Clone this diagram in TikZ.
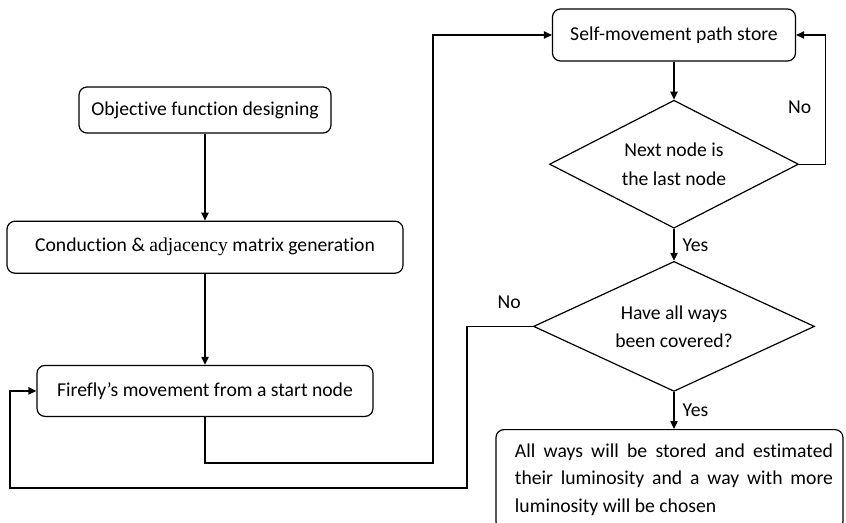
\documentclass[tikz,border=0pt]{standalone}
\usepackage{fontspec}
\setmainfont{Carlito}[Ligatures=NoCommon]
\newfontfamily\timesfont{Liberation Serif}
\usetikzlibrary{arrows.meta,positioning,shapes.geometric}
\tikzset{
  procbox/.style={draw=black, line width=0.9pt, rounded corners=6pt, align=center, fill=white,
    inner sep=3pt, font=\fontsize{14.75}{17}\selectfont},
  decision/.style={draw=black, line width=0.9pt, diamond, aspect=1.95, inner sep=0pt, align=center,
    font=\fontsize{14.75}{22}\selectfont},
  arr/.style={-{Triangle[length=6pt,width=5.5pt]}, line width=0.9pt},
  tag/.style={font=\fontsize{14.75}{17}\selectfont, inner sep=1pt}
}
\begin{document}
\begin{tikzpicture}[x=0.75pt, y=-0.75pt]
  \useasboundingbox (0,0) rectangle (846,522);
  \clip (0,0) rectangle (846,522);
  % left column
  \node[procbox, minimum width=189pt, minimum height=34.5pt] (obj) at (205,110) {Objective function designing};
  \node[procbox, below=65.25pt of obj, minimum width=297pt, minimum height=39pt] (adj) {Conduction \& {\timesfont adjacency} matrix generation};
  \node[procbox, below=68.25pt of adj, minimum width=252pt, minimum height=38.25pt] (move) {Firefly's movement from a start node};
  \draw[arr] (obj) -- (adj);
  \draw[arr] (adj) -- (move);

  % right column
  \node[procbox, minimum width=182.25pt, minimum height=39pt] (store) at (674,35) {Self-movement path store};
  \node[decision, below=28.5pt of store, minimum width=186.75pt, minimum height=96pt] (last) {Next node is\\the last node};
  \node[decision, aspect=2.16, below=24pt of last, minimum width=210.75pt, minimum height=97.5pt,
    font=\fontsize{14.75}{21}\selectfont] (cover) {Have all ways\\been covered?};
  \node[procbox, below=27.75pt of cover, xshift=-3.4pt, minimum width=260.25pt, minimum height=75pt,
    text width=245.25pt, align=justify, font=\fontsize{14.75}{20.6}\selectfont] (result)
    {\leftskip=6.75pt\hyphenpenalty=10000\exhyphenpenalty=10000 All ways will be stored and estimated their luminosity and a way with more luminosity will be chosen\par};
  \draw[arr] (store) -- (last);
  \draw[arr] (last.east) -- ++(26,0) |- node[tag, pos=0.22, left=9pt] {No} (store.east);
  \draw[arr] (last) -- node[tag, right=5pt] {Yes} (cover);
  \draw[arr] (cover.south) -- node[tag, right=5pt] {Yes} (cover.south |- result.north);

  % feedback lines
  \coordinate (turn) at (433,463);
  \coordinate (back) at (467,488);
  \coordinate (home) at (10,488);
  \draw[arr] (move.south) |- (turn) |- (store.west);
  \draw[arr] (cover.west) -| node[tag, pos=0.18, above=12pt] {No} (back) -- (home) |- (move.west);
\end{tikzpicture}
\end{document}
